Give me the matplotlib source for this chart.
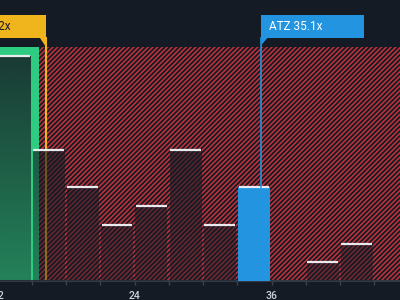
import matplotlib
matplotlib.use('Agg')
import matplotlib.pyplot as plt
import numpy as np
from matplotlib.patches import Rectangle, Polygon
from matplotlib.transforms import blended_transform_factory
from matplotlib.colors import to_rgb

# PE ratio distribution of peers (bins of 3x)
bin_left = [12, 15, 18, 21, 24, 27, 30, 33, 36, 39, 42]
counts = [12, 7, 5, 3, 4, 7, 3, 5, 0, 1, 2]
tick_values = [12, 24, 36]

company_name = "ATZ"
company_value = 35.1
industry_value = 16.2
industry_label = "Industry 16.2x"
highlight_end = 15.6  # green zone ends / red hatched zone starts

bin_width = 3
xmin, xmax = 12.2, 47.24
ymax = 12.48

bg = '#151b24'
red = '#c4323c'
green = '#2ecc80'
yellow = '#f0b41c'
blue = '#2394e0'
white = '#e8eaee'

plt.rcParams['hatch.linewidth'] = 1.1
plt.rcParams['font.family'] = ['Roboto', 'DejaVu Sans']

fig = plt.figure(figsize=(4, 3), dpi=100, facecolor=bg)
ax = fig.add_axes([0, 19 / 300, 1, 234 / 300])
ax.set_facecolor(bg)
trans = blended_transform_factory(ax.transData, ax.transAxes)

# axis first, so tick setting can't move the limits later
for s in ['top', 'left', 'right']:
    ax.spines[s].set_visible(False)
ax.spines['bottom'].set_color('#343a45')
ax.spines['bottom'].set_linewidth(1.5)
ax.set_yticks([])
ticks = list(range(12, 49, 3))
ax.set_xticks(ticks)
ax.set_xticklabels([])
ax.tick_params(axis='x', colors='#3c4250', length=3, width=1)
# tick labels drawn as text so the half-visible "12" at the left edge shows
for t in tick_values:
    ax.text(t, -15 / 234, str(t), color='#d0d4da', fontsize=7.5, fontweight='medium',
            ha='center', va='center', transform=trans, clip_on=False)

# red hatched zone and green zone
ax.add_patch(Rectangle((highlight_end, 0), xmax - highlight_end + 1, ymax,
                       facecolor='none', edgecolor=red, hatch='///////', linewidth=0, zorder=1))
ax.add_patch(Rectangle((xmin - 1, 0), highlight_end - xmin + 1, ymax,
                       facecolor=green, linewidth=0, zorder=1))

box_top, box_bot = (281 - 15) / 234, (281 - 38) / 234
px = (xmax - xmin) / 400  # one pixel in data units

# yellow industry line (under the bars)
ax.plot([industry_value, industry_value], [0, box_bot], color=yellow, lw=1.5,
        transform=trans, clip_on=False, zorder=2)

# bars with a dark overlay that gets lighter towards the bottom
overlay = to_rgb(bg)
a_top, a_bot = 0.84, 0.42
for left, c in zip(bin_left, counts):
    if c == 0:
        continue
    x0, x1 = left + 0.05, left + 2.85
    if left <= company_value < left + bin_width:
        ax.add_patch(Rectangle((x0, 0), x1 - x0, c, facecolor=blue, linewidth=0, zorder=3))
    else:
        n = 64
        ys = np.linspace(0, c, n)
        arr = np.zeros((n, 1, 4))
        arr[..., :3] = overlay
        arr[:, 0, 3] = a_bot + (a_top - a_bot) * ys / ymax
        ax.imshow(arr, extent=[x0, x1, 0, c], origin='lower', aspect='auto',
                  interpolation='bilinear', zorder=3)
    ax.plot([x0 + 0.05, x1 - 0.05], [c, c], color=white, lw=1.6,
            solid_capstyle='butt', zorder=4)

# blue company line from bar top to label
comp_count = counts[bin_left.index(int((company_value - 12) // 3 * 3 + 12))]
ax.plot([company_value, company_value], [comp_count / ymax, box_bot], color=blue, lw=1.2,
        transform=trans, clip_on=False, zorder=4)

# labels
ax.add_patch(Rectangle((company_value, box_bot), 9.0, box_top - box_bot, facecolor=blue,
                       linewidth=0, transform=trans, clip_on=False, zorder=5))
ax.add_patch(Polygon([(company_value, box_bot), (company_value + 6 * px, box_bot),
                      (company_value, (281 - 45) / 234)], closed=True, facecolor=blue,
                     linewidth=0, transform=trans, clip_on=False, zorder=5))
ax.text(company_value + 8 * px, (box_top + box_bot) / 2, f"{company_name} {company_value}x",
        color='white', fontsize=8.5, ha='left', va='center', transform=trans, zorder=6)

ax.add_patch(Rectangle((xmin - 20, box_bot), industry_value - xmin + 20, box_top - box_bot,
                       facecolor=yellow, linewidth=0, transform=trans, clip_on=False, zorder=5))
ax.add_patch(Polygon([(industry_value - 6 * px, box_bot), (industry_value, box_bot),
                      (industry_value, 1.0)], closed=True, facecolor=yellow,
                     linewidth=0, transform=trans, clip_on=False, zorder=5))
ax.text(industry_value - 35 * px, (box_top + box_bot) / 2, industry_label,
        color=bg, fontsize=8.5, ha='right', va='center', transform=trans, zorder=6)

ax.set_xlim(xmin, xmax)
ax.set_ylim(0, ymax)

fig.savefig('out.png', dpi=100, facecolor=bg)
